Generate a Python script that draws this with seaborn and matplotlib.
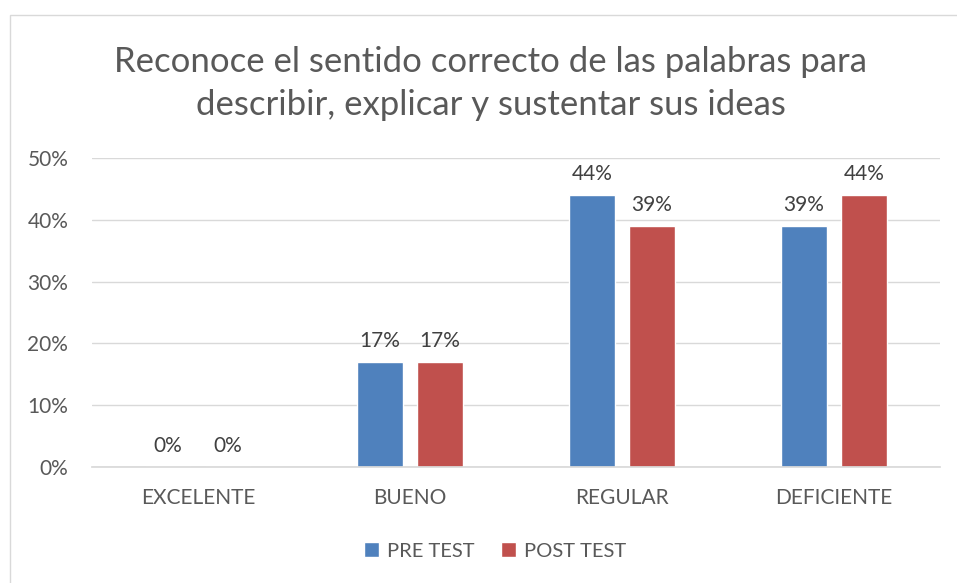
import pandas as pd
import matplotlib.pyplot as plt
import seaborn as sns
from matplotlib.patches import Rectangle
from matplotlib.ticker import PercentFormatter

# Data
categories = ['EXCELENTE', 'BUENO', 'REGULAR', 'DEFICIENTE']
pre_test = [0.00, 0.17, 0.44, 0.39]
post_test = [0.00, 0.17, 0.39, 0.44]
series = ['PRE TEST', 'POST TEST']
colors = ['#4F81BD', '#C0504D']

df = pd.DataFrame({
    'categoria': categories * 2,
    'valor': pre_test + post_test,
    'serie': [series[0]] * 4 + [series[1]] * 4,
})

sns.set_theme(style="white")
plt.rcParams['font.family'] = ['Lato', 'DejaVu Sans']
text_col = '#595959'

fig = plt.figure(figsize=(9.57, 5.83), dpi=100)
ax = fig.add_axes([0.0961, 0.199, 0.8861, 0.530])

sns.barplot(ax=ax, data=df, x='categoria', y='valor', hue='serie',
            palette=colors, width=0.566, gap=0.233, saturation=1)

ax.set_ylim(0, 0.5)
ax.set_yticks([0, 0.1, 0.2, 0.3, 0.4, 0.5])
ax.yaxis.set_major_formatter(PercentFormatter(1.0, decimals=0))
ax.grid(axis='y', color='#D9D9D9', linewidth=1)
ax.set_axisbelow(True)
for s in ['top', 'right', 'left']:
    ax.spines[s].set_visible(False)
ax.spines['bottom'].set_color('#D9D9D9')
ax.tick_params(axis='both', length=0, labelsize=15, labelcolor=text_col)
ax.tick_params(axis='y', pad=17)
ax.tick_params(axis='x', pad=15)
ax.set_xlabel('')
ax.set_ylabel('')

for cont in ax.containers:
    ax.bar_label(cont, labels=[f'{v * 100:.0f}%' for v in cont.datavalues],
                 padding=8, fontsize=15, color='#404040')

ax.legend(loc='center', bbox_to_anchor=(0.475, -0.272), ncol=2,
          frameon=False, fontsize=14.5, labelcolor=text_col, handlelength=0.75,
          handleheight=0.75, columnspacing=1.3, handletextpad=0.4)

fig.text(0.513, 0.857, 'Reconoce el sentido correcto de las palabras para\n'
         'describir, explicar y sustentar sus ideas',
         ha='center', va='center', fontsize=25, color=text_col, linespacing=1.42)

fig.patches.append(Rectangle((0.0104, -0.02), 1.0, 0.994, transform=fig.transFigure,
                             fill=False, edgecolor='#D9D9D9', linewidth=1))

plt.savefig('out.png', dpi=100)
